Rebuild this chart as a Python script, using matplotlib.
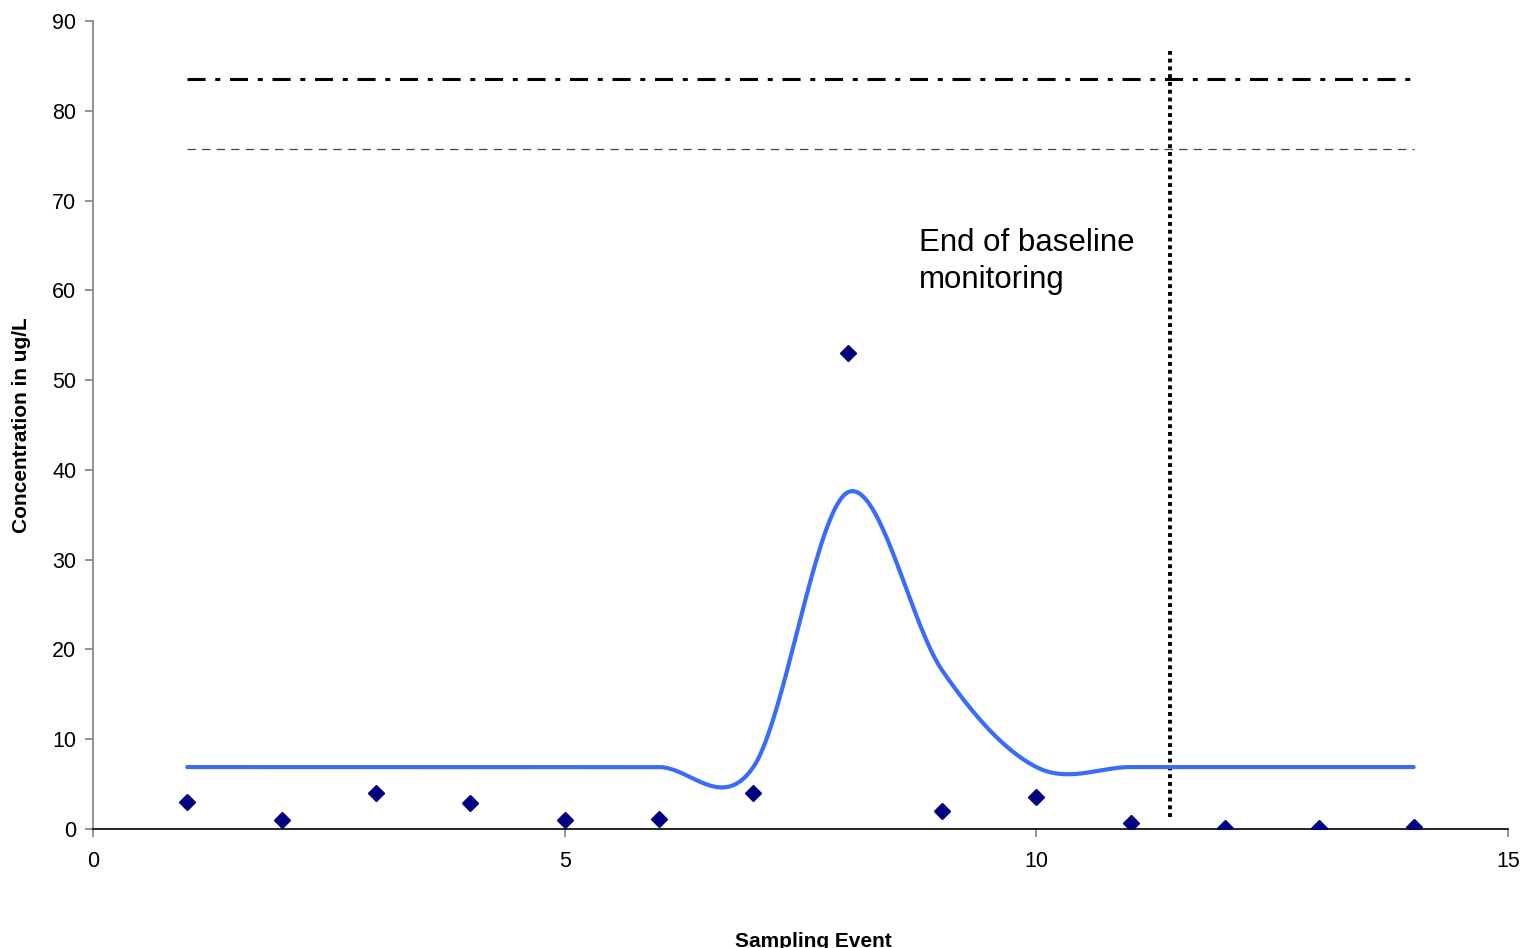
import numpy as np
import matplotlib
matplotlib.use("Agg")
import matplotlib.pyplot as plt

plt.rcParams['font.family'] = ['Liberation Sans', 'DejaVu Sans']
plt.rcParams['lines.scale_dashes'] = False

# sampled concentrations (ug/L)
events = [1, 2, 3, 4, 5, 6, 7, 8, 9, 10, 11, 12, 13, 14]
conc = [3.0, 1.0, 4.0, 2.9, 1.0, 1.1, 4.0, 53.0, 2.0, 3.6, 0.7, 0.1, 0.1, 0.2]

# trend series drawn as a smoothed line
trend = [6.9, 6.9, 6.9, 6.9, 6.9, 6.9, 6.9, 37.5, 17.7, 6.9, 6.9, 6.9, 6.9, 6.9]

upper_limit = 83.6
lower_limit = 75.8
baseline_end = 11.42
baseline_span = (1.3, 86.7)


def smooth(xs, ys, n=40):
    # cubic bezier segments with tangents from neighbouring points
    xs = np.asarray(xs, float)
    ys = np.asarray(ys, float)
    px = np.concatenate([[xs[0]], xs, [xs[-1]]])
    py = np.concatenate([[ys[0]], ys, [ys[-1]]])
    out_x, out_y = [], []
    t = np.linspace(0, 1, n)
    for i in range(1, len(px) - 2):
        p0 = np.array([px[i], py[i]])
        p3 = np.array([px[i + 1], py[i + 1]])
        p1 = p0 + (np.array([px[i + 1], py[i + 1]]) - np.array([px[i - 1], py[i - 1]])) / 6
        p2 = p3 - (np.array([px[i + 2], py[i + 2]]) - np.array([px[i], py[i]])) / 6
        b = ((1 - t) ** 3)[:, None] * p0 + (3 * (1 - t) ** 2 * t)[:, None] * p1 \
            + (3 * (1 - t) * t ** 2)[:, None] * p2 + (t ** 3)[:, None] * p3
        out_x.extend(b[:, 0])
        out_y.extend(b[:, 1])
    return np.array(out_x), np.array(out_y)


fig = plt.figure(figsize=(15.22, 9.48), dpi=100)
ax = fig.add_axes([0.0611, 0.1255, 0.9297, 0.8523])

sx, sy = smooth(events, trend)
ax.plot(sx, sy, color='#3a6cfa', lw=3.0, solid_capstyle='round', zorder=3)
ax.plot(events, conc, 'D', color='#000080', markersize=8.5, zorder=4)

ax.plot([events[0], events[-1]], [upper_limit, upper_limit], color='black', lw=2.2,
        dashes=(13, 7, 3.6, 7), dash_capstyle='butt')
ax.plot([events[0], events[-1]], [lower_limit, lower_limit], color='#444444', lw=0.9,
        dashes=(6, 4.5))
ax.plot([baseline_end, baseline_end], baseline_span, color='black', lw=2.8,
        dashes=(2.8, 2.8), dash_capstyle='butt')

ax.text(8.76, 66.9, 'End of baseline\nmonitoring', fontsize=22.5, va='top',
        linespacing=1.3)

ax.set_xlim(0, 15)
ax.set_ylim(0, 90)
ax.set_xticks([0, 5, 10, 15])
ax.set_yticks(range(0, 91, 10))
ax.tick_params(axis='both', labelsize=15.5, color='#808080', length=6, width=1.2)
ax.tick_params(axis='x', pad=10)
ax.tick_params(axis='y', pad=6)
ax.spines['top'].set_visible(False)
ax.spines['right'].set_visible(False)
ax.spines['left'].set_color('#808080')
ax.spines['left'].set_linewidth(1.2)
ax.spines['bottom'].set_color('black')
ax.spines['bottom'].set_linewidth(1.2)

fig.text(22 / 1522, 1 - 425 / 948, 'Concentration in ug/L', fontsize=15,
         fontweight='bold', rotation=90, ha='center', va='center')
fig.text(813 / 1522, 1 - 932 / 948, 'Sampling Event', fontsize=15,
         fontweight='bold', ha='center', va='top')

fig.savefig('out.png', dpi=100)
